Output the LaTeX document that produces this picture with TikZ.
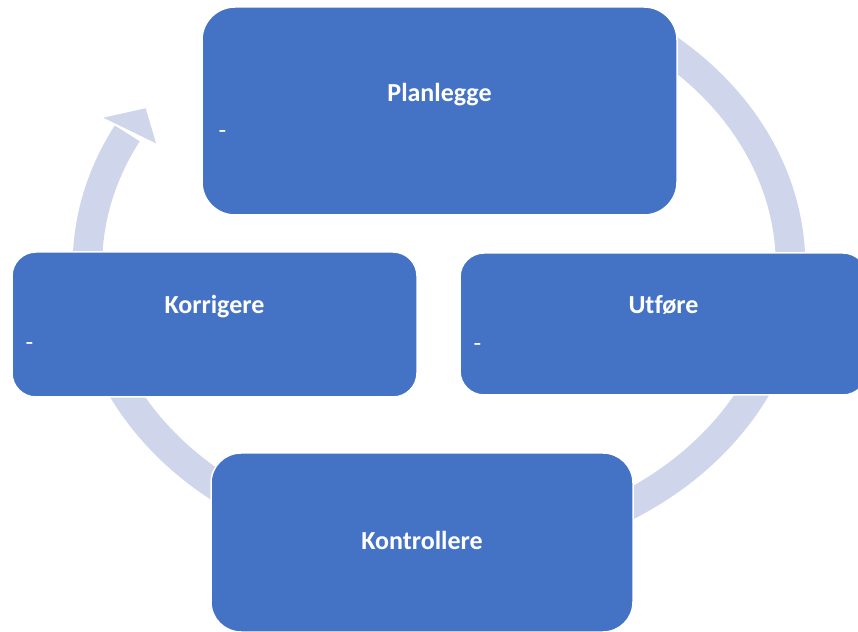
\documentclass[tikz,border=0pt]{standalone}
\usepackage{fontspec}
\setmainfont{Carlito}[Ligatures=NoCommon]
\definecolor{boxblue}{HTML}{4472C4}
\definecolor{ringcol}{HTML}{CFD5EA}
\begin{document}
\begin{tikzpicture}[x=1pt,y=1pt,
  box/.style={fill=boxblue, draw=white, line width=1.5pt, rounded corners=#1, inner sep=0pt, outer sep=0pt},
  boxtitle/.style={text=white, inner sep=0pt, font=\bfseries\fontsize{26}{30}\selectfont},
  dashtxt/.style={text=white, inner sep=0pt, font=\fontsize{25}{30}\selectfont},
  ring/.style={draw=ringcol, line width=29.5pt, line cap=butt}
]
\useasboundingbox (0,0) rectangle (858,631);
\clip (0,0) rectangle (858,631);
\fill[white] (0,0) rectangle (858,631);

% ring behind the boxes
\coordinate (ringstart) at (630.44,605.02);
\draw[ring] (ringstart) arc[start angle=57, end angle=-207.5, x radius=351.5, y radius=285] coordinate (ringend);
\coordinate (barbL) at (103.3,513.3);
\coordinate (tip) at (145.7,522.7);
\coordinate (barbR) at (156,487.7);
\fill[ringcol] (barbL) -- (tip) -- (barbR) -- cycle;

% boxes
\node[box=33, minimum width=475pt, minimum height=208pt] (plan) at (439.5,520) {};
\node[box=24, minimum width=405pt, minimum height=145pt] (korr) at (214.5,306.5) {};
\node[box=24, minimum width=407pt, minimum height=142pt] (utf) at (663.5,307) {};
\node[box=30, minimum width=422pt, minimum height=179pt] (kont) at (422,88.5) {};

% titles
\node[boxtitle, anchor=base] (tPlan) at (439.5,529.3) {Planlegge};
\node[boxtitle, anchor=base] (tKorr) at (214.5,317) {Korrigere};
\node[boxtitle, anchor=base] (tUtf) at (663.5,317) {Utføre};
\node[boxtitle, anchor=base] (tKont) at (422,81) {Kontrollere};

% dashes
\node[dashtxt, anchor=base west] (dPlan) at (218.5,492.6) {-};
\node[dashtxt, anchor=base west] (dKorr) at (25.5,280.3) {-};
\node[dashtxt, anchor=base west] (dUtf) at (473.5,279.3) {-};
\end{tikzpicture}
\end{document}
